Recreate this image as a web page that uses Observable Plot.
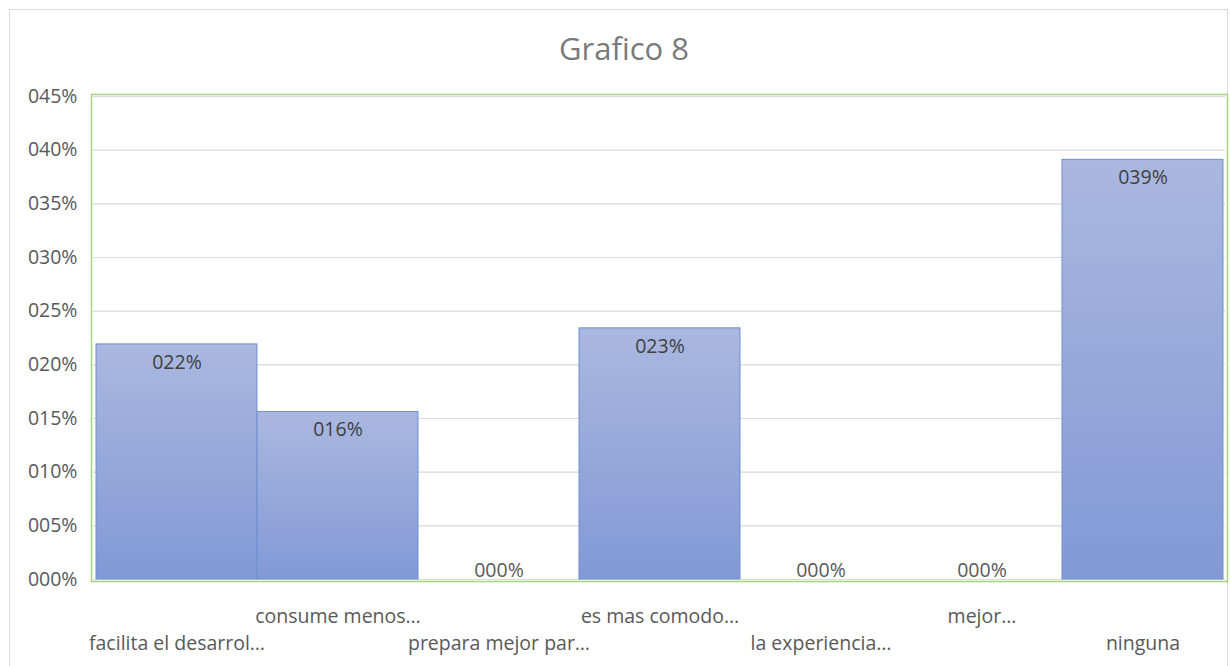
<!DOCTYPE html>
<html>
<head>
<meta charset="utf-8">
<script src="https://cdn.jsdelivr.net/npm/d3@7"></script>
<script src="https://cdn.jsdelivr.net/npm/@observablehq/plot@0.6"></script>
<style>
  html, body { margin: 0; padding: 0; background: #fff; }
  #wrap { position: relative; width: 1230px; height: 666px; overflow: hidden; font-family: "Open Sans", Lato, sans-serif; }
  #border { position: absolute; left: 9px; top: 9px; width: 1219px; height: 700px; border: 1px solid #d9d9d9; box-sizing: border-box; }
  #title { position: absolute; left: 0; width: 1248px; top: 27px; text-align: center; font-size: 31px; line-height: 42px; color: #7a7a7a; }
  #chart { position: absolute; left: 0; top: 0; }
</style>
</head>
<body>
<div id="wrap">
  <div id="border"></div>
  <div id="chart"></div>
  <div id="title">Grafico 8</div>
</div>
<script>
const categories = [
  "facilita el desarrol…",
  "consume menos…",
  "prepara mejor par…",
  "es mas comodo…",
  "la experiencia…",
  "mejor…",
  "ninguna"
];
const values = [0.219, 0.156, 0, 0.234, 0, 0, 0.391];
const yTicks = [0, 0.05, 0.10, 0.15, 0.20, 0.25, 0.30, 0.35, 0.40, 0.45];

const data = categories.map((c, i) => ({cat: c, value: values[i]}));
const fmt = d => String(Math.round(d * 100)).padStart(3, "0") + "%";
const upperRow = categories.filter((d, i) => i % 2 === 1);
const lowerRow = categories.filter((d, i) => i % 2 === 0);

const FS = 19.5;
const chart = Plot.plot({
  width: 1230,
  height: 666,
  marginTop: 96,
  marginBottom: 87,
  marginLeft: 93,
  marginRight: 5,
  style: {fontFamily: "'Open Sans', Lato, sans-serif", fontSize: FS + "px", color: "#595959", background: "transparent"},
  x: {domain: categories, padding: 0, label: null},
  y: {domain: [0, 0.45], label: null},
  marks: [
    Plot.gridY(yTicks, {stroke: "#d9d9d9", strokeOpacity: 1, strokeWidth: 1.2}),
    Plot.barY(data, {x: "cat", y: "value", fill: "url(#barGrad)", stroke: "#6f8fd0", strokeWidth: 1, inset: 0}),
    Plot.text(data.filter(d => d.value > 0), {x: "cat", y: "value", text: d => fmt(d.value), dy: 18, fill: "#404040", fontSize: FS}),
    Plot.text(data.filter(d => d.value === 0), {x: "cat", y: "value", text: d => fmt(d.value), dy: -9, fill: "#595959", fontSize: FS}),
    Plot.axisY(yTicks, {tickSize: 0, tickPadding: 16, tickFormat: fmt, fill: "#595959", fontSize: FS}),
    Plot.axisX(upperRow, {tickSize: 0, tickPadding: 30, fill: "#595959", fontSize: FS, label: null}),
    Plot.axisX(lowerRow, {tickSize: 0, tickPadding: 57, fill: "#595959", fontSize: FS, label: null}),
    Plot.frame({stroke: "#a3d47c", strokeWidth: 1.5, inset: -2})
  ]
});

const svg = d3.select(chart);
const defs = svg.insert("defs", ":first-child");
const grad = defs.append("linearGradient").attr("id", "barGrad")
  .attr("x1", 0).attr("y1", 0).attr("x2", 0).attr("y2", 1);
grad.append("stop").attr("offset", "0%").attr("stop-color", "#aab8e0");
grad.append("stop").attr("offset", "100%").attr("stop-color", "#8299d6");

document.getElementById("chart").appendChild(chart);
</script>
</body>
</html>
